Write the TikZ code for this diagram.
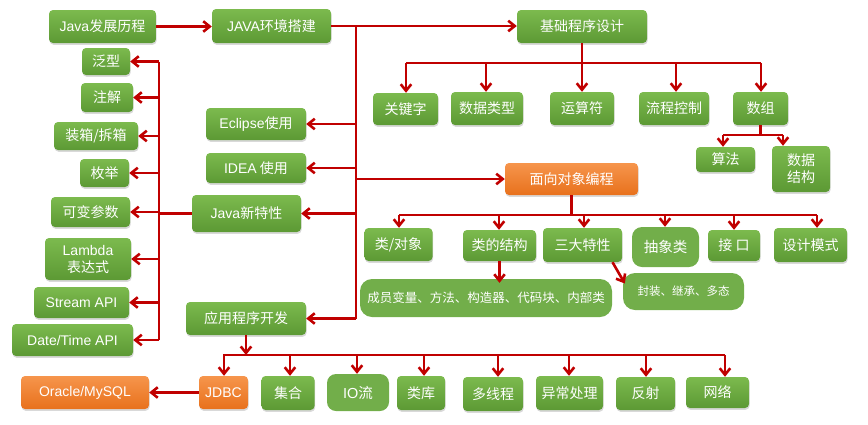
\documentclass[tikz,border=0pt]{standalone}
\usepackage{fontspec}
\setmainfont{Noto Sans CJK SC}
\newfontfamily\lat{Liberation Sans}
\usetikzlibrary{arrows.meta,shadows,calc}
\definecolor{gtop}{HTML}{7CBA4E}
\definecolor{gbot}{HTML}{5C9934}
\definecolor{gflat}{HTML}{72AE4A}
\definecolor{otop}{HTML}{F6954C}
\definecolor{obot}{HTML}{E8711C}
\definecolor{lred}{HTML}{C00000}
\begin{document}
\begin{tikzpicture}[x=1pt,y=-1pt,
  wh/.style 2 args={minimum width=#1pt, minimum height=#2pt},
  box/.style={rounded corners=4pt, text=white, inner sep=1pt, align=center,
    font=\fontsize{14}{15.5}\selectfont,
    drop shadow={opacity=0.3,shadow xshift=0.6pt,shadow yshift=-1.8pt}},
  gbox/.style={box, top color=gtop, bottom color=gbot},
  obox/.style={box, top color=otop, bottom color=obot},
  blob/.style={fill=gflat, text=white, rounded corners=12pt, inner sep=1pt, align=center},
  ln/.style={draw=lred, line width=2.6pt},
  ar/.style={ln, -{Straight Barb[length=6.5pt,width=10.5pt]}},
]
\useasboundingbox (0,0) rectangle (868,424);

% top row
\node[gbox, wh={107}{33}] (java) at (102.5,26.5) {{\lat Java}发展历程};
\node[gbox, wh={119}{34}] (env) at (271.5,26) {{\lat JAVA}环境搭建};
\node[gbox, wh={130}{33}] (basic) at (582,26.5) {基础程序设计};

% left column
\node[gbox, wh={48}{27}] (fx) at (106,61.5) {泛型};
\node[gbox, wh={52}{29}] (zj) at (107,97.5) {注解};
\node[gbox, wh={84}{28}] (zx) at (96,136) {装箱/拆箱};
\node[gbox, wh={49}{28}] (mj) at (104.5,173) {枚举};
\node[gbox, wh={79}{30}] (kb) at (90.5,212) {可变参数};
\node[gbox, wh={86}{42}, font=\fontsize{14}{17}\selectfont] (lam) at (88,259) {{\lat Lambda}\\表达式};
\node[gbox, wh={95}{31}] (st) at (81.5,302.5) {{\lat Stream API}};
\node[gbox, wh={121}{32}] (dt) at (72.5,340) {{\lat Date/Time API}};

% middle column
\node[gbox, wh={100}{32}] (eclipse) at (256,124) {{\lat Eclipse}使用};
\node[gbox, wh={100}{30}] (idea) at (256,168) {{\lat IDEA} 使用};
\node[gbox, wh={109}{37}] (newfeat) at (246.5,213.5) {{\lat Java}新特性};
\node[gbox, wh={120}{33}] (appdev) at (246,318.5) {应用程序开发};

% basic programming children
\node[gbox, wh={65}{32}] (kw) at (405.5,109) {关键字};
\node[gbox, wh={72}{33}] (dtype) at (487,108.5) {数据类型};
\node[gbox, wh={64}{33}] (oper) at (582,108.5) {运算符};
\node[gbox, wh={70}{33}] (flow) at (674,108.5) {流程控制};
\node[gbox, wh={55}{33}] (arr) at (760.5,108.5) {数组};
\node[gbox, wh={59}{25}] (algo) at (725.5,159.5) {算法};
\node[gbox, wh={58}{46}, font=\fontsize{14}{17}\selectfont] (ds) at (801,169) {数据\\结构};

% OOP
\node[obox, wh={133}{32}] (oop) at (571.5,179) {面向对象编程};
\node[gbox, wh={68}{33}] (cobj) at (398.5,244.5) {类/对象};
\node[gbox, wh={73}{31}] (cstr) at (499.5,245.5) {类的结构};
\node[gbox, wh={79}{34}] (three) at (582.5,245) {三大特性};
\node[blob, wh={67}{40}, rounded corners=10pt, font=\fontsize{14.5}{16}\selectfont] (abs) at (665.5,247) {抽象类};
\node[gbox, wh={52}{31}] (iface) at (734,245.5) {接\ 口};
\node[gbox, wh={73}{34}] (design) at (810.5,245) {设计模式};
\node[blob, wh={252}{38}, font=\fontsize{12.5}{14}\selectfont] (mem) at (486,298) {成员变量、方法、构造器、代码块、内部类};
\node[blob, wh={121}{37}, font=\fontsize{11.5}{13}\selectfont] (encap) at (683.5,291.5) {封装、继承、多态};

% application development children
\node[obox, wh={49}{33}] (jdbc) at (223.5,392.5) {{\lat JDBC}};
\node[obox, wh={128}{33}] (oracle) at (85,392.5) {{\lat Oracle/MySQL}};
\node[gbox, wh={53}{34}] (coll) at (288,393) {集合};
\node[blob, wh={62}{37}, rounded corners=9pt, font=\fontsize{14.5}{16}\selectfont] (io) at (358,392.5) {{\lat IO}流};
\node[gbox, wh={48}{34}] (lib) at (421,393) {类库};
\node[gbox, wh={60}{34}] (thr) at (493,394) {多线程};
\node[gbox, wh={67}{34}] (exc) at (569.5,393) {异常处理};
\node[gbox, wh={59}{33}] (refl) at (645.5,393.5) {反射};
\node[gbox, wh={63}{31}] (net) at (717.5,392.5) {网络};

% ---------- connectors ----------
\draw[ar] (java.east) -- (java.east -| env.west);
\draw[ar] (env.east) -- (env.east -| basic.west);

% main trunk
\coordinate (tTop) at (356,26);
\coordinate (tBot) at (356,318.5);
\draw[ln] (tTop) -- (tBot);
\foreach \n in {eclipse,idea,newfeat,appdev}
  \draw[ar] (\n.east -| tTop) -- (\n.east);
\draw[ar] (oop.west -| tTop) -- (oop.west);

% left trunk
\coordinate (lTop) at (159,61.5);
\coordinate (lBot) at (159,340);
\draw[ln] (lTop) -- (lBot);
\draw[ln] (newfeat.west) -- (newfeat.west -| lTop);
\foreach \n in {fx,zj,zx,mj,kb,lam,st,dt}
  \draw[ar] (\n.east -| lTop) -- (\n.east);

% basic bus
\coordinate (bL) at (406,63);
\coordinate (bR) at (761,63);
\draw[ln] (bL) -- (bR);
\draw[ar] (basic.south) -- (oper.north);
\foreach \n/\x in {kw/406,dtype/486,flow/676,arr/761}
  \draw[ar] (\x,63) -- (\n.north -| \x,0);

% array sub
\coordinate (aL) at (723,135);
\coordinate (aR) at (783,135);
\draw[ln] (arr.south) -- (arr.south |- aL);
\draw[ln] (aL) -- (aR);
\draw[ar] (aL) -- (algo.north -| aL);
\draw[ar] (aR) -- (ds.north -| aR);

% oop bus
\coordinate (oL) at (399,215);
\coordinate (oR) at (817,215);
\draw[ln] (oop.south) -- (oop.south |- oL);
\draw[ln] (oL) -- (oR);
\foreach \n/\x in {cobj/399,cstr/499,three/584,abs/665,iface/734,design/817}
  \draw[ar] (\x,215) -- (\n.north -| \x,0);
\draw[ar, shorten >=-4pt] (cstr.south) -- (cstr.south |- mem.north);
\draw[ar] ($(three.south)+(30,0)$) -- ($(encap.west)+(2,-8)$);

% app bus
\coordinate (pL) at (223,355);
\coordinate (pR) at (725,355);
\draw[ar] (appdev.south) -- (appdev.south |- pL);
\draw[ln] (pL) -- (pR);
\foreach \n/\x in {jdbc/224,coll/290,io/357,lib/424,thr/498,exc/569,refl/646,net/725}
  \draw[ar] (\x,355) -- (\n.north -| \x,0);
\draw[ar] (jdbc.west) -- (oracle.east);
\end{tikzpicture}
\end{document}
